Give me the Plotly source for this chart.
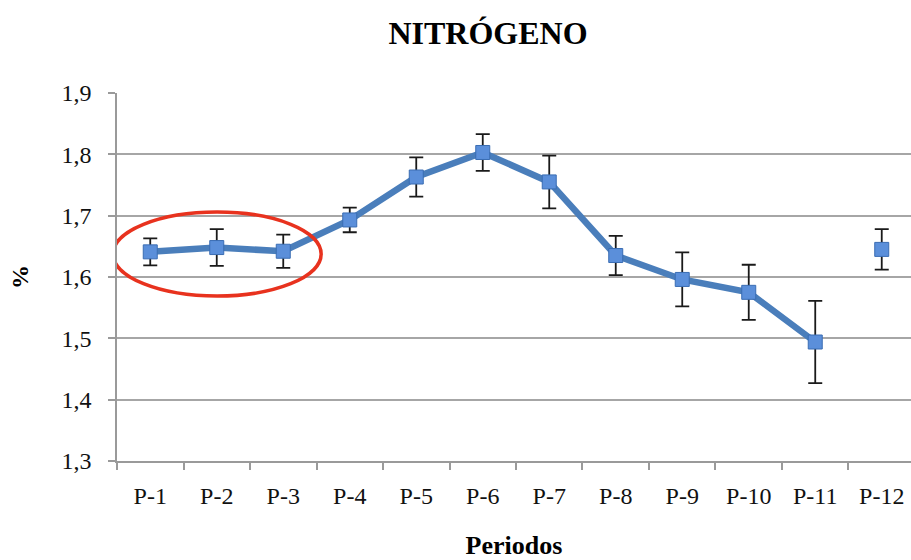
import plotly.graph_objects as go

periods = ["P-1", "P-2", "P-3", "P-4", "P-5", "P-6", "P-7", "P-8", "P-9", "P-10", "P-11", "P-12"]
nitrogen = [1.641, 1.648, 1.642, 1.693, 1.763, 1.803, 1.755, 1.635, 1.596, 1.575, 1.494, 1.645]
error = [0.022, 0.030, 0.027, 0.020, 0.032, 0.030, 0.043, 0.032, 0.044, 0.045, 0.067, 0.033]
y_ticks = [1.3, 1.4, 1.5, 1.6, 1.7, 1.8, 1.9]

FONT = "Liberation Serif, Times New Roman, serif"
LINE_BLUE = "#4a7ebb"

fig = go.Figure()
# connecting line (P-12 is not connected)
fig.add_trace(go.Scatter(
    x=periods[:11], y=nitrogen[:11], mode="lines",
    line=dict(color=LINE_BLUE, width=6.5), hoverinfo="skip", showlegend=False,
))
# markers with error bars
fig.add_trace(go.Scatter(
    x=periods, y=nitrogen, mode="markers",
    marker=dict(symbol="square", size=14, color="#5b8fda",
                line=dict(color="#3a6db3", width=1)),
    error_y=dict(type="data", array=error, visible=True, color="#1a1a1a",
                 thickness=1.8, width=7),
    showlegend=False,
))

fig.add_shape(type="circle", xref="x", yref="y",
              x0=-0.56, x1=2.57, y0=1.569, y1=1.706,
              line=dict(color="#e8321e", width=3.5), layer="above")

fig.update_layout(
    width=911, height=560,
    margin=dict(l=117, r=0, t=93, b=99),
    paper_bgcolor="white", plot_bgcolor="white",
    separators=",.",
    font=dict(family=FONT, color="#111111", size=24),
    title=dict(text="<b>NITRÓGENO</b>", x=488/911, xanchor="center",
               y=1 - 33/560, yanchor="middle",
               font=dict(family=FONT, size=32, color="#000000")),
    xaxis=dict(
        type="category", range=[-0.5, 11.44],
        showgrid=False, showline=True, linecolor="#9a9a9a", linewidth=1.5,
        ticks="outside", tickson="boundaries", ticklen=7, tickcolor="#9a9a9a", tickwidth=1.5,
        ticklabelstandoff=12,
        tickfont=dict(family=FONT, size=24, color="#111111"),
        title=dict(text="<b>Periodos</b>", standoff=33,
                   font=dict(family=FONT, size=26, color="#000000")),
        zeroline=False,
    ),
    yaxis=dict(
        range=[1.3, 1.9], tickvals=y_ticks, tickformat=".1f",
        showgrid=True, gridcolor="#a6a6a6", gridwidth=1.5,
        showline=True, linecolor="#9a9a9a", linewidth=1.5,
        ticks="outside", ticklen=7, tickcolor="#9a9a9a", tickwidth=1.5,
        ticklabelstandoff=12,
        tickfont=dict(family=FONT, size=24, color="#111111"),
        title=dict(text="<b>%</b>", standoff=26,
                   font=dict(family=FONT, size=24, color="#000000")),
        zeroline=False,
    ),
)

fig.write_html("out.html",
               config={"displayModeBar": False},
               post_script="document.body.style.margin='0';document.body.style.padding='0';")
